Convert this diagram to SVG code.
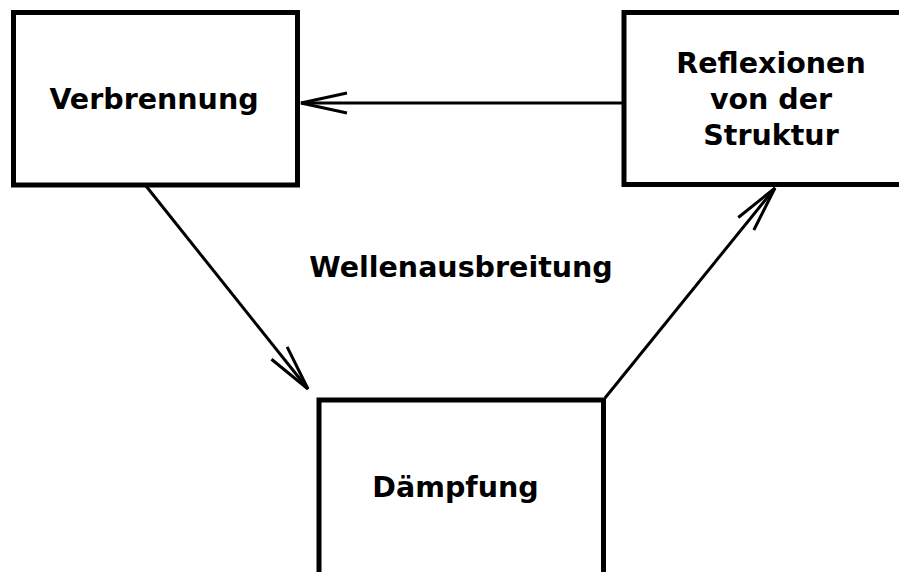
<svg xmlns="http://www.w3.org/2000/svg" width="899" height="572" viewBox="0 0 899 572">
<style>
.box{fill:#fff;stroke:#000;stroke-width:5}
.lbl{font-family:"DejaVu Sans","Liberation Sans",sans-serif;font-weight:bold;font-size:28.5px;fill:#000;text-anchor:middle}
.conn{fill:none;stroke:#000;stroke-width:3;marker-end:url(#arr)}
</style>
<defs>
<marker id="arr" markerUnits="userSpaceOnUse" orient="auto" refX="0" refY="0" markerWidth="60" markerHeight="30" viewBox="-50 -15 60 30" overflow="visible">
<path d="M-46,-10 L0,0 L-46,10" fill="none" stroke="#000" stroke-width="3"/>
</marker>
</defs>
<rect width="899" height="572" fill="#fff"/>
<g id="connectors">
<line class="conn" x1="624" y1="103" x2="301" y2="103"/>
<line class="conn" x1="146" y1="186" x2="308" y2="389"/>
<line class="conn" x1="605" y1="398" x2="775" y2="188"/>
</g>
<g id="verbrennung">
<rect class="box" x="13.5" y="12.5" width="284" height="172.5"/>
<text class="lbl" x="154" y="109">Verbrennung</text>
</g>
<g id="reflexionen">
<rect class="box" x="624" y="12.5" width="293" height="172"/>
<text class="lbl" x="771" y="73">Reflexionen</text>
<text class="lbl" x="771" y="109">von der</text>
<text class="lbl" x="771" y="145">Struktur</text>
</g>
<g id="daempfung">
<rect class="box" x="319" y="400" width="284.5" height="180"/>
<text class="lbl" x="455.5" y="497">Dämpfung</text>
</g>
<g id="wellenausbreitung">
<text class="lbl" x="461" y="277">Wellenausbreitung</text>
</g>
</svg>
